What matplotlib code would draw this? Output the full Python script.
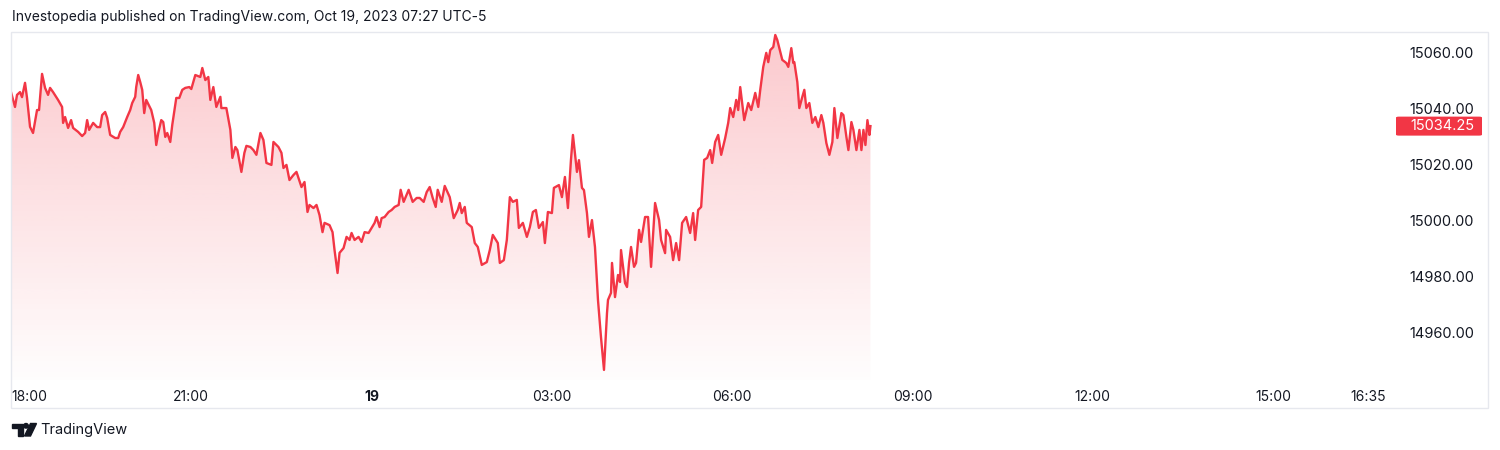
import numpy as np
import matplotlib
matplotlib.use("Agg")
import matplotlib.pyplot as plt
from matplotlib.patches import Rectangle, FancyBboxPatch, Polygon, Ellipse
from matplotlib.transforms import blended_transform_factory

plt.rcParams['font.family'] = ["Inter", "DejaVu Sans"]

title_text = "Investopedia published on TradingView.com, Oct 19, 2023 07:27 UTC-5"

# minutes since 18:00 (Oct 18) and NQ price
minutes = [0, 4, 6, 9, 11, 14, 16, 19, 22, 26, 28, 31, 34, 37, 39, 42, 47, 51, 52, 54,
           57, 60, 62, 67, 71, 74, 76, 78, 82, 86, 89, 91, 94, 96, 99, 104, 107, 109, 112, 116,
           119, 121, 124, 125, 127, 129, 131, 133, 135, 140, 143, 145, 147, 150, 152, 154, 156, 159, 161, 165,
           168, 171, 174, 178, 180, 184, 189, 191, 194, 197, 199, 202, 205, 209, 210, 215, 219, 221, 224, 226,
           230, 233, 235, 239, 242, 245, 249, 252, 255, 260, 262, 267, 270, 272, 275, 278, 282, 285, 290, 293,
           296, 298, 302, 305, 308, 311, 313, 318, 321, 323, 326, 328, 332, 335, 338, 340, 343, 347, 350, 353,
           357, 360, 363, 365, 368, 370, 373, 377, 380, 383, 387, 389, 392, 397, 401, 405, 408, 412, 415, 418,
           421, 424, 426, 430, 433, 438, 442, 446, 448, 450, 453, 455, 460, 463, 466, 470, 475, 478, 481, 486,
           488, 492, 495, 498, 501, 505, 507, 511, 515, 518, 521, 524, 527, 531, 533, 536, 540, 542, 547, 550,
           553, 556, 559, 561, 565, 567, 570, 572, 575, 577, 580, 583, 586, 589, 592, 595, 596, 599, 600, 603,
           606, 608, 609, 613, 615, 617, 619, 622, 624, 627, 629, 633, 636, 639, 643, 647, 649, 653, 654, 658,
           661, 664, 667, 670, 674, 678, 681, 683, 686, 689, 692, 695, 698, 700, 703, 706, 709, 713, 716, 718,
           721, 724, 726, 728, 732, 736, 739, 743, 746, 748, 751, 754, 756, 758, 761, 763, 765, 768, 770, 774,
           776, 779, 781, 782, 785, 787, 790, 792, 794, 797, 800, 803, 806, 809, 811, 814, 817, 820, 822, 825,
           829, 831, 834, 836, 839, 841, 844, 847, 849, 851, 853, 855, 857, 858]
prices = [15046.4, 15041.1, 15045.4, 15046.4, 15044.6, 15049.7, 15044.3, 15034.0, 15031.8, 15040.0,
          15040.0, 15052.9, 15047.9, 15045.4, 15047.9, 15046.4, 15043.6, 15041.1, 15035.4, 15037.5,
          15033.6, 15036.4, 15033.6, 15032.2, 15030.7, 15031.8, 15036.4, 15032.9, 15035.4, 15033.9,
          15033.9, 15038.2, 15039.3, 15037.2, 15031.1, 15030.0, 15030.0, 15032.2, 15033.9, 15037.5,
          15040.0, 15042.5, 15044.7, 15048.2, 15052.5, 15050.0, 15047.2, 15038.9, 15043.6, 15040.0,
          15035.4, 15027.5, 15031.8, 15036.4, 15035.7, 15030.4, 15031.8, 15028.6, 15034.7, 15044.3,
          15044.3, 15047.2, 15047.9, 15048.2, 15047.5, 15052.5, 15051.8, 15055.0, 15050.7, 15051.8,
          15043.6, 15048.2, 15041.1, 15044.7, 15040.7, 15040.7, 15032.9, 15022.9, 15026.8, 15025.7,
          15017.9, 15024.7, 15027.2, 15026.8, 15025.7, 15024.0, 15031.8, 15029.3, 15021.1, 15020.4,
          15028.6, 15026.8, 15024.7, 15019.3, 15020.4, 15015.0, 15016.8, 15017.9, 15012.5, 15014.3,
          15003.6, 15006.1, 15005.0, 15006.1, 15002.5, 14996.4, 14999.7, 14998.9, 14996.4, 14990.0,
          14981.8, 14989.0, 14990.7, 14994.7, 14993.6, 14996.1, 14993.6, 14994.7, 14992.9, 14996.4,
          14996.1, 14997.9, 14999.7, 15001.8, 14998.2, 15001.4, 15001.8, 15003.6, 15004.3, 15005.4,
          15006.1, 15011.5, 15007.2, 15011.5, 15007.2, 15008.6, 15008.6, 15007.2, 15010.7, 15012.5,
          15008.6, 15005.4, 15011.5, 15007.2, 15012.9, 15008.9, 15001.4, 15004.3, 15006.8, 15003.2,
          15005.4, 14999.7, 14998.2, 14992.5, 14991.1, 14984.7, 14985.7, 14990.0, 14995.4, 14992.5,
          14985.4, 14986.4, 14993.6, 15008.9, 15007.2, 15007.9, 14997.9, 14999.7, 14994.7, 14998.2,
          15003.6, 15004.3, 14997.9, 15000.0, 14992.5, 15003.6, 15003.2, 15012.2, 15013.2, 15008.9,
          15016.1, 15005.0, 15022.1, 15031.1, 15017.9, 15022.1, 15012.2, 15011.4, 15003.2, 14994.7,
          15000.7, 14991.1, 14972.2, 14958.9, 14947.2, 14967.5, 14972.2, 14974.7, 14985.4, 14973.2,
          14981.1, 14978.6, 14990.0, 14978.2, 14976.8, 14985.4, 14991.1, 14984.0, 14985.4, 14997.2,
          14992.9, 15001.8, 15001.8, 14984.0, 15006.8, 15000.7, 14993.6, 14988.9, 14997.2, 14994.7,
          14986.4, 14992.5, 14986.4, 14999.7, 15001.8, 14996.1, 15003.2, 14993.6, 15004.3, 15005.4,
          15022.2, 15022.9, 15025.7, 15021.1, 15028.6, 15031.1, 15024.0, 15030.0, 15035.4, 15040.7,
          15037.5, 15043.6, 15040.0, 15048.2, 15036.4, 15042.5, 15040.0, 15046.1, 15041.1, 15047.2,
          15055.4, 15060.4, 15057.1, 15061.4, 15062.5, 15066.8, 15065.0, 15060.7, 15057.9, 15056.8,
          15055.4, 15062.1, 15056.8, 15057.1, 15050.0, 15040.7, 15044.7, 15047.2, 15040.7, 15042.5,
          15035.4, 15037.5, 15033.9, 15038.2, 15035.4, 15028.2, 15024.0, 15028.6, 15040.7, 15030.0,
          15038.9, 15038.2, 15030.4, 15025.7, 15035.7, 15032.9, 15025.7, 15032.9, 15025.7, 15032.9,
          15027.5, 15036.4, 15031.1, 15034.25]
last_price = 15034.25

time_tick_minutes = [0, 180, 360, 540, 720, 900, 1080, 1260, 1355]
time_tick_labels = ["18:00", "21:00", "19", "03:00", "06:00", "09:00", "12:00", "15:00", "16:35"]
price_ticks = [14960, 14980, 15000, 15020, 15040, 15060]

LINE = "#F23645"
TXT = "#131722"
W, H = 1500, 450

fig = plt.figure(figsize=(15, 4.5), dpi=100)
fig.patch.set_facecolor("white")


def P(px, py):
    return (px / W, 1 - py / H)


# outer frame
fig.patches.append(Rectangle(P(11, 408), (1488 - 11) / W, (408 - 32) / H,
                             transform=fig.transFigure, fill=False,
                             edgecolor="#E6E8EE", lw=1.0))

ax = fig.add_axes([11 / W, 1 - 380 / H, (1388 - 11) / W, (380 - 33) / H])
ax.set_xlim(0, 1374.7)
ax.set_ylim(14943.6, 15067.5)
for s in ax.spines.values():
    s.set_visible(False)
ax.set_facecolor("none")

x = np.array(minutes, dtype=float)
y = np.array(prices, dtype=float)

# gradient area fill
poly = ax.fill_between(x, y, 14943.6, color="none", lw=0)
rgba = np.zeros((256, 1, 4))
rgba[..., 0] = 242 / 255
rgba[..., 1] = 54 / 255
rgba[..., 2] = 69 / 255
rgba[..., 3] = np.linspace(0.27, 0.01, 256).reshape(-1, 1)
im = ax.imshow(rgba, aspect="auto", extent=[x.min(), x.max(), 14943.6, y.max()],
               origin="upper", zorder=1, interpolation="bilinear")
path = poly.get_paths()[0]
im.set_clip_path(path, transform=ax.transData)

ax.plot(x, y, color=LINE, lw=1.7, zorder=3, solid_joinstyle="round")

# time axis
ax.set_xticks(time_tick_minutes)
ax.set_xticklabels(time_tick_labels)
ax.set_yticks([])
ax.tick_params(axis="x", length=0, pad=7, labelsize=10, labelcolor=TXT)
labs = ax.get_xticklabels()
labs[0].set_horizontalalignment("left")
for lab in labs:
    if lab.get_text() == "19":
        lab.set_fontweight("bold")

# price axis labels
tr = blended_transform_factory(fig.transFigure, ax.transData)
for pt in price_ticks:
    ax.text(1474 / W, pt, f"{pt:.2f}", transform=tr, ha="right", va="center",
            fontsize=10.5, color=TXT, clip_on=False)

# last price label
y_last = ax.transData.transform((0, last_price))[1]
box_h = 19
fig.patches.append(FancyBboxPatch(((1396) / W, (y_last - box_h / 2) / H),
                                  (1482 - 1396) / W, box_h / H,
                                  boxstyle="round,pad=0,rounding_size=0.002",
                                  transform=fig.transFigure, facecolor=LINE,
                                  edgecolor="none", zorder=5))
fig.text(1474 / W, y_last / H, f"{last_price:.2f}", ha="right", va="center",
         fontsize=10.5, color="white", zorder=6)

# title
fig.text(12 / W, 1 - 17 / H, title_text, ha="left", va="center",
         fontsize=10, color=TXT)

# TradingView logo
fig.patches.append(Polygon([P(12, 423.5), P(22.5, 423.5), P(22.5, 436), P(17.8, 436),
                            P(17.8, 428), P(12, 428)], closed=True,
                           transform=fig.transFigure, color=TXT))
fig.patches.append(Ellipse(P(26, 425.8), 4.6 / W, 4.6 / H,
                           transform=fig.transFigure, color=TXT))
fig.patches.append(Polygon([P(30.5, 423.5), P(36.5, 423.5), P(30.5, 436), P(24.5, 436)],
                           closed=True, transform=fig.transFigure, color=TXT))
fig.text(40 / W, 1 - 430 / H, "TradingView", ha="left", va="center",
         fontsize=10.5, color=TXT)

fig.savefig("out.png", dpi=100, facecolor="white")
